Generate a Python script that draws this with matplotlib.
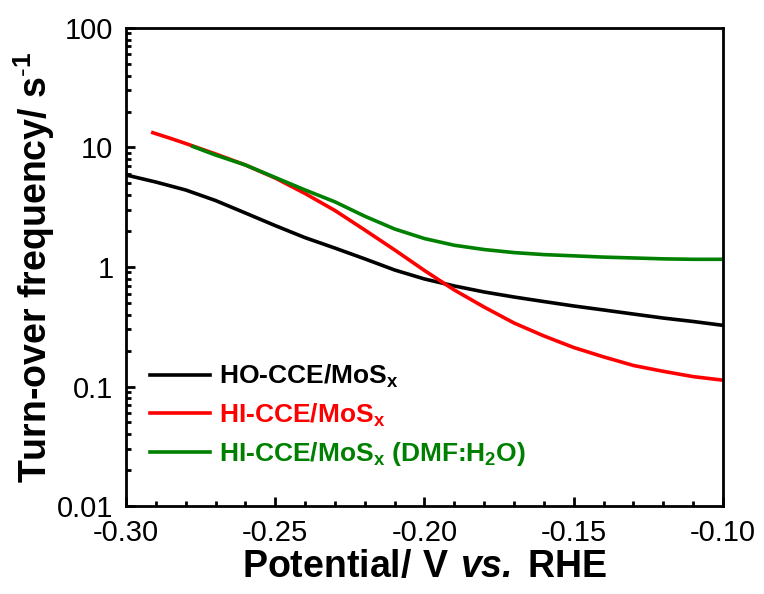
import numpy as np
import matplotlib
matplotlib.use("Agg")
import matplotlib.pyplot as plt
from matplotlib.ticker import FixedLocator, FuncFormatter, LogLocator, NullFormatter, MultipleLocator

plt.rcParams['font.family'] = ['Liberation Sans', 'DejaVu Sans']
plt.rcParams['mathtext.fontset'] = 'custom'
plt.rcParams['mathtext.rm'] = 'Liberation Sans'
plt.rcParams['mathtext.bf'] = 'Liberation Sans:bold'
plt.rcParams['mathtext.bfit'] = 'Liberation Sans:bold:italic'

# HO-CCE/MoSx
x_ho = [-0.300, -0.290, -0.280, -0.270, -0.260, -0.250, -0.240, -0.230, -0.220,
        -0.210, -0.200, -0.190, -0.180, -0.170, -0.160, -0.150, -0.140, -0.130,
        -0.120, -0.110, -0.100]
y_ho = [5.89, 5.14, 4.41, 3.60, 2.83, 2.22, 1.76, 1.44, 1.17,
        0.944, 0.794, 0.694, 0.618, 0.561, 0.514, 0.472, 0.437, 0.404,
        0.374, 0.350, 0.325]

# HI-CCE/MoSx
x_hi = [-0.291, -0.285, -0.280, -0.270, -0.260, -0.250, -0.240, -0.230, -0.220,
        -0.210, -0.200, -0.190, -0.180, -0.170, -0.160, -0.150, -0.140, -0.130,
        -0.120, -0.110, -0.100]
y_hi = [13.3, 11.9, 10.8, 8.83, 7.14, 5.55, 4.12, 2.97, 2.04,
        1.39, 0.935, 0.642, 0.462, 0.340, 0.265, 0.212, 0.177, 0.150,
        0.134, 0.121, 0.113]

# HI-CCE/MoSx (DMF:H2O)
x_dmf = [-0.2776, -0.270, -0.260, -0.250, -0.240, -0.230, -0.220, -0.210, -0.200,
         -0.190, -0.180, -0.170, -0.160, -0.150, -0.140, -0.130, -0.120, -0.110,
         -0.100]
y_dmf = [10.2, 8.65, 7.14, 5.61, 4.41, 3.51, 2.66, 2.08, 1.73,
         1.52, 1.40, 1.32, 1.27, 1.24, 1.21, 1.19, 1.17, 1.16,
         1.16]

fig = plt.figure(figsize=(7.64, 5.94), dpi=100)
ax = fig.add_axes([0.1649, 0.1481, 0.7814, 0.8048])

ax.plot(x_ho, y_ho, color='black', lw=2.6, label=r'HO-CCE/MoS$_\mathbf{x}$')
ax.plot(x_hi, y_hi, color='#ff0000', lw=2.6, label=r'HI-CCE/MoS$_\mathbf{x}$')
ax.plot(x_dmf, y_dmf, color='#008000', lw=2.6, label=r'HI-CCE/MoS$_\mathbf{x}$ (DMF:H$_\mathbf{2}$O)')

ax.set_yscale('log')
ax.set_xlim(-0.30, -0.10)
ax.set_ylim(0.01, 100)

ax.xaxis.set_major_locator(MultipleLocator(0.05))
ax.xaxis.set_minor_locator(MultipleLocator(0.01))
ax.xaxis.set_major_formatter(FuncFormatter(lambda v, p: '%.2f' % v))
ax.yaxis.set_major_locator(FixedLocator([0.01, 0.1, 1, 10, 100]))
ax.yaxis.set_major_formatter(FuncFormatter(lambda v, p: '%g' % v))
ax.yaxis.set_minor_locator(LogLocator(base=10, subs=np.arange(2, 10)))
ax.yaxis.set_minor_formatter(NullFormatter())

ax.tick_params(which='both', direction='in', width=2, labelsize=21, pad=9)
ax.tick_params(which='major', length=6.5)
ax.tick_params(which='minor', length=3.5)
for s in ax.spines.values():
    s.set_linewidth(2.0)

ax.set_xlabel(r'$\mathbf{Potential/\ V\ }\mathbfit{vs.}\:\mathbf{RHE}$', fontsize=27)
ax.set_ylabel(r'Turn-over frequency/ s$^{\mathbf{\text{-}1}}$', fontsize=27, fontweight='bold')
ax.xaxis.set_label_coords(0.5, -0.09)
ax.yaxis.set_label_coords(-0.116, 0.5)

leg = ax.legend(loc='lower left', bbox_to_anchor=(0.0, 0.03), frameon=False,
                prop={'size': 19, 'weight': 'bold'}, labelcolor='linecolor',
                handlelength=2.3, handletextpad=0.34, labelspacing=0.42)

fig.savefig('out.png', dpi=100)
